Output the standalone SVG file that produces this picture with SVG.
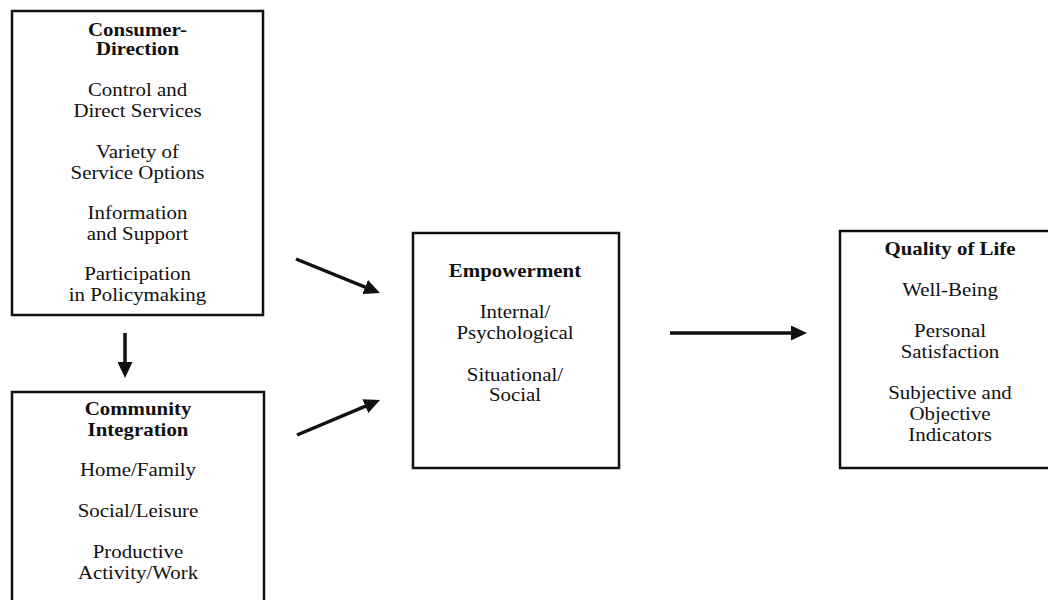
<svg xmlns="http://www.w3.org/2000/svg" width="1048" height="600" viewBox="0 0 1048 600">
<style>
.box{fill:#fff;stroke:#111;stroke-width:2.5}
.t{font-family:"Liberation Serif","Times New Roman",serif;font-size:18.5px;fill:#111;text-anchor:middle}
.b{font-weight:bold}
.c{stroke:#111;stroke-width:3.5;fill:none}
</style>
<defs>
<marker id="ah" markerUnits="userSpaceOnUse" markerWidth="16" markerHeight="15" refX="10" refY="7.5" orient="auto" viewBox="0 0 16 15">
<path d="M0,0 L16,7.5 L0,15 z" fill="#111"/>
</marker>
</defs>
<rect width="1048" height="600" fill="#fff"/>
<g id="consumer-direction">
<rect class="box" x="12" y="11" width="251" height="304"/>
<text class="t b" transform="translate(137.5,36) scale(1.13,1)">Consumer-</text>
<text class="t b" transform="translate(137.5,55) scale(1.13,1)">Direction</text>
<text class="t" transform="translate(137.5,96) scale(1.13,1)">Control and</text>
<text class="t" transform="translate(137.5,117) scale(1.13,1)">Direct Services</text>
<text class="t" transform="translate(137.5,158) scale(1.13,1)">Variety of</text>
<text class="t" transform="translate(137.5,179) scale(1.13,1)">Service Options</text>
<text class="t" transform="translate(137.5,219) scale(1.13,1)">Information</text>
<text class="t" transform="translate(137.5,240) scale(1.13,1)">and Support</text>
<text class="t" transform="translate(137.5,280) scale(1.13,1)">Participation</text>
<text class="t" transform="translate(137.5,301) scale(1.13,1)">in Policymaking</text>
</g>
<g id="community-integration">
<rect class="box" x="12" y="392" width="252" height="230"/>
<text class="t b" transform="translate(138,415) scale(1.13,1)">Community</text>
<text class="t b" transform="translate(138,436) scale(1.13,1)">Integration</text>
<text class="t" transform="translate(138,476) scale(1.13,1)">Home/Family</text>
<text class="t" transform="translate(138,517) scale(1.13,1)">Social/Leisure</text>
<text class="t" transform="translate(138,558) scale(1.13,1)">Productive</text>
<text class="t" transform="translate(138,579) scale(1.13,1)">Activity/Work</text>
</g>
<g id="empowerment">
<rect class="box" x="413" y="233" width="206" height="235"/>
<text class="t b" transform="translate(515,277) scale(1.13,1)">Empowerment</text>
<text class="t" transform="translate(515,318) scale(1.13,1)">Internal/</text>
<text class="t" transform="translate(515,339) scale(1.13,1)">Psychological</text>
<text class="t" transform="translate(515,381) scale(1.13,1)">Situational/</text>
<text class="t" transform="translate(515,401) scale(1.13,1)">Social</text>
</g>
<g id="quality-of-life">
<rect class="box" x="840" y="231" width="230" height="237"/>
<text class="t b" transform="translate(950,255) scale(1.13,1)">Quality of Life</text>
<text class="t" transform="translate(950,296) scale(1.13,1)">Well-Being</text>
<text class="t" transform="translate(950,337) scale(1.13,1)">Personal</text>
<text class="t" transform="translate(950,358) scale(1.13,1)">Satisfaction</text>
<text class="t" transform="translate(950,399) scale(1.13,1)">Subjective and</text>
<text class="t" transform="translate(950,420) scale(1.13,1)">Objective</text>
<text class="t" transform="translate(950,441) scale(1.13,1)">Indicators</text>
</g>
<g id="connectors">
<line class="c" x1="125" y1="333" x2="125" y2="372" marker-end="url(#ah)"/>
<line class="c" x1="296" y1="259" x2="374.4" y2="290.8" marker-end="url(#ah)"/>
<line class="c" x1="297" y1="435" x2="374.5" y2="402.3" marker-end="url(#ah)"/>
<line class="c" x1="670" y1="333" x2="801" y2="333" marker-end="url(#ah)"/>
</g>
</svg>
